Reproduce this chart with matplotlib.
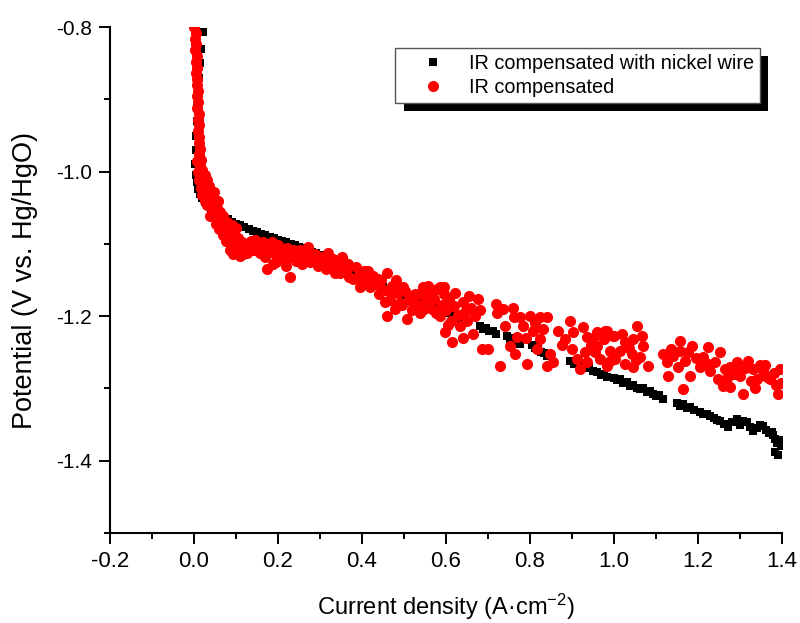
import numpy as np
import matplotlib
matplotlib.use("Agg")
import matplotlib.pyplot as plt
from matplotlib.ticker import MultipleLocator, FormatStrFormatter
from matplotlib import patheffects

# DATA
# IR compensated with nickel wire (black squares)
nickel_pts = [
    (0.021, -0.807), (0.017, -0.830), (0.015, -0.850), (0.012, -0.870), (0.010, -0.890),
    (0.008, -0.910), (0.006, -0.930), (0.005, -0.950), (0.004, -0.970), (0.003, -0.990),
    (0.004, -1.005), (0.006, -1.015), (0.010, -1.024), (0.015, -1.031), (0.020, -1.037),
    (0.026, -1.042), (0.033, -1.047), (0.040, -1.051), (0.048, -1.055), (0.056, -1.058),
    (0.064, -1.061), (0.072, -1.064), (0.080, -1.066), (0.090, -1.069), (0.100, -1.072),
    (0.110, -1.074), (0.120, -1.077), (0.130, -1.079), (0.140, -1.082), (0.150, -1.084),
    (0.160, -1.086), (0.170, -1.088), (0.180, -1.090), (0.190, -1.092), (0.200, -1.094),
    (0.210, -1.096), (0.220, -1.098), (0.230, -1.100), (0.240, -1.102), (0.250, -1.104),
    (0.260, -1.106), (0.270, -1.108), (0.280, -1.111), (0.290, -1.113), (0.300, -1.115),
    (0.315, -1.119), (0.330, -1.123), (0.345, -1.127), (0.360, -1.132), (0.375, -1.136),
    (0.390, -1.141), (0.405, -1.146), (0.420, -1.151), (0.435, -1.156), (0.450, -1.160),
    (0.465, -1.164), (0.480, -1.168), (0.495, -1.171), (0.510, -1.174), (0.525, -1.177),
    (0.540, -1.180), (0.555, -1.183), (0.570, -1.187), (0.585, -1.191), (0.600, -1.195),
    (0.615, -1.198), (0.630, -1.202), (0.645, -1.205),
    (0.680, -1.214), (0.688, -1.218), (0.695, -1.216), (0.703, -1.221), (0.712, -1.220), (0.720, -1.224),
    (0.745, -1.228), (0.752, -1.232), (0.760, -1.230), (0.769, -1.235), (0.776, -1.238),
    (0.805, -1.240), (0.812, -1.244), (0.819, -1.243), (0.826, -1.249), (0.833, -1.251), (0.840, -1.255),
    (0.895, -1.262), (0.904, -1.266), (0.912, -1.266), (0.920, -1.270),
    (0.940, -1.272), (0.950, -1.276), (0.960, -1.277), (0.968, -1.281), (0.975, -1.280), (0.983, -1.284),
    (1.000, -1.285), (1.008, -1.288), (1.014, -1.287), (1.022, -1.293), (1.030, -1.291), (1.038, -1.297),
    (1.046, -1.295), (1.055, -1.300), (1.062, -1.301), (1.070, -1.299), (1.078, -1.305), (1.086, -1.304),
    (1.093, -1.308), (1.100, -1.310), (1.108, -1.309), (1.117, -1.314),
    (1.150, -1.320), (1.157, -1.324), (1.165, -1.322), (1.173, -1.327), (1.181, -1.326), (1.190, -1.330),
    (1.205, -1.332), (1.213, -1.336), (1.221, -1.335), (1.229, -1.338), (1.237, -1.341), (1.245, -1.343),
    (1.252, -1.345), (1.262, -1.349), (1.271, -1.353), (1.280, -1.347), (1.293, -1.342), (1.300, -1.350),
    (1.308, -1.345), (1.317, -1.346), (1.324, -1.353), (1.331, -1.359), (1.340, -1.355), (1.348, -1.350),
    (1.355, -1.352), (1.362, -1.358), (1.368, -1.362), (1.375, -1.360), (1.379, -1.365), (1.384, -1.370),
    (1.388, -1.376), (1.383, -1.388), (1.390, -1.392), (1.395, -1.372), (1.398, -1.380),
]

# IR compensated (red circles)
ir_pts = [
    (0.001, -0.800), (0.004, -0.808), (0.002, -0.816), (0.005, -0.824), (0.003, -0.832),
    (0.006, -0.840), (0.004, -0.848), (0.007, -0.856), (0.005, -0.864), (0.008, -0.872),
    (0.006, -0.880), (0.009, -0.888), (0.007, -0.896), (0.010, -0.904), (0.008, -0.912),
    (0.011, -0.920), (0.009, -0.928), (0.012, -0.936), (0.010, -0.944), (0.013, -0.952),
    (0.011, -0.960), (0.015, -0.968), (0.013, -0.976), (0.017, -0.984), (0.015, -0.992),
    (0.020, -0.998), (0.018, -1.006), (0.025, -1.004), (0.023, -1.014), (0.030, -1.012),
    (0.028, -1.022), (0.035, -1.020), (0.033, -1.030),
    (0.008, -0.985), (0.009, -1.000), (0.012, -1.012), (0.016, -1.022), (0.020, -1.032),
    (0.026, -1.040), (0.031, -1.046),
    (0.040, -1.028), (0.038, -1.040), (0.045, -1.036), (0.043, -1.050), (0.050, -1.044),
    (0.038, -1.062), (0.048, -1.058), (0.055, -1.050), (0.058, -1.064), (0.052, -1.072),
    (0.062, -1.056), (0.065, -1.070), (0.060, -1.080), (0.070, -1.062), (0.072, -1.076),
    (0.068, -1.088), (0.078, -1.070), (0.080, -1.084), (0.076, -1.096), (0.085, -1.078),
    (0.088, -1.092), (0.086, -1.108), (0.093, -1.114), (0.095, -1.086), (0.098, -1.100),
    (0.105, -1.092), (0.108, -1.106), (0.110, -1.117), (0.117, -1.114), (0.115, -1.098),
    (0.122, -1.104), (0.126, -1.112), (0.100, -1.078), (0.090, -1.074), (0.057, -1.040),
    (0.047, -1.028),
    (0.135, -1.096), (0.142, -1.108), (0.150, -1.100), (0.158, -1.112), (0.164, -1.098),
    (0.170, -1.118), (0.174, -1.135), (0.180, -1.106), (0.188, -1.128), (0.192, -1.114),
    (0.200, -1.102), (0.205, -1.120), (0.212, -1.110), (0.218, -1.130), (0.225, -1.118),
    (0.229, -1.146), (0.235, -1.108), (0.242, -1.124), (0.250, -1.112), (0.252, -1.108),
    (0.258, -1.128), (0.265, -1.116), (0.272, -1.104), (0.280, -1.122), (0.288, -1.114),
    (0.295, -1.130), (0.302, -1.118),
    (0.145, -1.095), (0.160, -1.105), (0.185, -1.098), (0.196, -1.125), (0.222, -1.105),
    (0.245, -1.115), (0.275, -1.125),
    (0.310, -1.126), (0.318, -1.112), (0.325, -1.132), (0.331, -1.121), (0.340, -1.128),
    (0.348, -1.140), (0.355, -1.124), (0.362, -1.136), (0.370, -1.146), (0.379, -1.149),
    (0.385, -1.132), (0.392, -1.144), (0.400, -1.154), (0.405, -1.138), (0.412, -1.150),
    (0.420, -1.160), (0.426, -1.144), (0.432, -1.156), (0.440, -1.170), (0.445, -1.150),
    (0.452, -1.164), (0.460, -1.140), (0.460, -1.200), (0.466, -1.178), (0.472, -1.158),
    (0.478, -1.190), (0.485, -1.168), (0.490, -1.182), (0.498, -1.160), (0.507, -1.204),
    (0.512, -1.176), (0.518, -1.192), (0.525, -1.170), (0.532, -1.184), (0.538, -1.196),
    (0.545, -1.159), (0.552, -1.178), (0.560, -1.168), (0.566, -1.190), (0.572, -1.176),
    (0.579, -1.163), (0.585, -1.200), (0.590, -1.184),
    (0.315, -1.135), (0.335, -1.140), (0.352, -1.118), (0.366, -1.128), (0.395, -1.160),
    (0.415, -1.138), (0.438, -1.148), (0.455, -1.180), (0.470, -1.170), (0.482, -1.150),
    (0.495, -1.185), (0.503, -1.165), (0.520, -1.180), (0.535, -1.170), (0.548, -1.190),
    (0.558, -1.158), (0.575, -1.195), (0.595, -1.160),
    (0.586, -1.159), (0.596, -1.170), (0.600, -1.192), (0.606, -1.178), (0.612, -1.206),
    (0.618, -1.186), (0.622, -1.168), (0.628, -1.198), (0.634, -1.214), (0.640, -1.180),
    (0.645, -1.194), (0.650, -1.206), (0.655, -1.172), (0.660, -1.188), (0.664, -1.225),
    (0.670, -1.200), (0.675, -1.176), (0.681, -1.192), (0.598, -1.222), (0.615, -1.236),
    (0.640, -1.230), (0.605, -1.212),
    (0.686, -1.245), (0.700, -1.245), (0.720, -1.183), (0.722, -1.195), (0.729, -1.269),
    (0.740, -1.214), (0.752, -1.241), (0.760, -1.188), (0.762, -1.201), (0.764, -1.252),
    (0.769, -1.229), (0.776, -1.201), (0.783, -1.214), (0.793, -1.266), (0.800, -1.200),
    (0.807, -1.220), (0.817, -1.245), (0.824, -1.201), (0.824, -1.232), (0.831, -1.218),
    (0.840, -1.201), (0.840, -1.269), (0.848, -1.252), (0.855, -1.263),
    (0.735, -1.190), (0.790, -1.230), (0.812, -1.210), (0.875, -1.240), (0.930, -1.250),
    (0.950, -1.230),
    (0.867, -1.220), (0.883, -1.232), (0.895, -1.207), (0.900, -1.245), (0.902, -1.222),
    (0.912, -1.259), (0.919, -1.273), (0.926, -1.215), (0.936, -1.229), (0.936, -1.263),
    (0.945, -1.240), (0.955, -1.250), (0.960, -1.222), (0.960, -1.241), (0.967, -1.259),
    (0.975, -1.232), (0.983, -1.220), (0.983, -1.269), (0.990, -1.248), (0.998, -1.228),
    (1.002, -1.259), (0.990, -1.262), (0.979, -1.220),
    (1.000, -1.228), (1.014, -1.248), (1.026, -1.236), (1.026, -1.266), (1.043, -1.252),
    (1.045, -1.232), (1.045, -1.270), (1.055, -1.214), (1.062, -1.256), (1.067, -1.228),
    (1.070, -1.241), (1.081, -1.269), (1.035, -1.244), (1.052, -1.260), (1.018, -1.224),
    (1.117, -1.252), (1.126, -1.263), (1.129, -1.283), (1.140, -1.255), (1.152, -1.270),
    (1.157, -1.234), (1.157, -1.248), (1.164, -1.301), (1.170, -1.262), (1.181, -1.283),
    (1.186, -1.241), (1.195, -1.258), (1.205, -1.270), (1.212, -1.256), (1.224, -1.243),
    (1.229, -1.276), (1.240, -1.263), (1.248, -1.287), (1.252, -1.250), (1.260, -1.297),
    (1.264, -1.273), (1.276, -1.270), (1.276, -1.298), (1.285, -1.280), (1.293, -1.263),
    (1.300, -1.283), (1.307, -1.308), (1.312, -1.272), (1.319, -1.262), (1.325, -1.290),
    (1.331, -1.273), (1.340, -1.287), (1.348, -1.268), (1.355, -1.276), (1.364, -1.284),
    (1.371, -1.287), (1.380, -1.278), (1.390, -1.308), (1.395, -1.273), (1.398, -1.292),
    (1.135, -1.245), (1.175, -1.250), (1.220, -1.265), (1.268, -1.285), (1.300, -1.270),
    (1.335, -1.300), (1.360, -1.268), (1.385, -1.295),
]

labels = ["IR compensated with nickel wire", "IR compensated"]

nx, ny = np.array(nickel_pts).T
rx, ry = np.array(ir_pts).T

plt.rcParams["font.family"] = ["Liberation Sans", "DejaVu Sans"]
plt.rcParams["mathtext.fontset"] = "custom"
plt.rcParams["mathtext.rm"] = "Liberation Sans"
plt.rcParams["mathtext.it"] = "Liberation Sans:italic"
plt.rcParams["mathtext.bf"] = "Liberation Sans:bold"

# PLOTTING
fig = plt.figure(figsize=(8, 6.23), dpi=100)
ax = fig.add_axes([0.1375, 0.1445, 0.84, 0.812])

ax.plot(nx, ny, "s", color="black", ms=6, mew=0, label=labels[0])
ax.plot(rx, ry, "o", color="red", ms=8, mew=0, label=labels[1])

ax.set_xlim(-0.2, 1.4)
ax.set_ylim(-1.5, -0.8)
ax.xaxis.set_major_locator(MultipleLocator(0.2))
ax.xaxis.set_minor_locator(MultipleLocator(0.1))
ax.yaxis.set_major_locator(MultipleLocator(0.2))
ax.yaxis.set_minor_locator(MultipleLocator(0.1))
ax.xaxis.set_major_formatter(FormatStrFormatter("%.1f"))
ax.yaxis.set_major_formatter(FormatStrFormatter("%.1f"))

for s in ["top", "right"]:
    ax.spines[s].set_visible(False)
for s in ["left", "bottom"]:
    ax.spines[s].set_linewidth(1.5)
ax.tick_params(which="major", direction="out", length=8, width=1.4)
ax.tick_params(which="minor", direction="out", length=4.3, width=1.4)
ax.tick_params(axis="y", labelsize=15, pad=5)
ax.tick_params(axis="x", labelsize=16, pad=5)

ax.set_xlabel("Current density (A\u00b7cm$^{\\mathrm{-2}}$)", fontsize=17, labelpad=14)
ax.set_ylabel("Potential (V vs. Hg/HgO)", fontsize=19.5, labelpad=13)

leg = ax.legend(loc="upper right", bbox_to_anchor=(0.967, 0.959), fontsize=14.3,
                frameon=True, fancybox=False, edgecolor="#555555", framealpha=1,
                handlelength=3.2, handletextpad=0.2, borderpad=0.3, labelspacing=0.25,
                borderaxespad=0)
leg.get_frame().set_linewidth(1.0)
leg.get_frame().set_path_effects([
    patheffects.SimplePatchShadow(offset=(6, -6), shadow_rgbFace="black", alpha=1),
    patheffects.Normal()])

fig.savefig("out.png", dpi=100)
